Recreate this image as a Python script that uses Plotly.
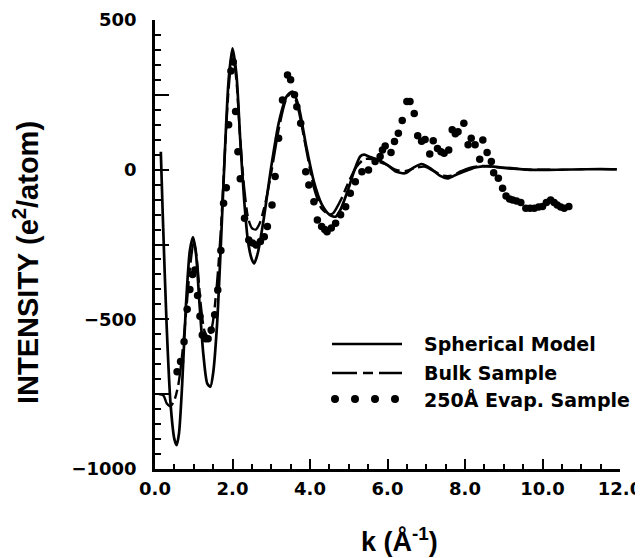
import plotly.graph_objects as go

# ---- data ----
k_model = [0.15, 0.20, 0.30, 0.40, 0.50, 0.56, 0.62, 0.70, 0.80, 0.90, 0.98, 1.05, 1.15, 1.25, 1.35, 1.43,
           1.50, 1.60, 1.70, 1.80, 1.90, 2.00, 2.10, 2.20, 2.30, 2.40, 2.50, 2.56, 2.65, 2.80, 3.00, 3.20,
           3.40, 3.55, 3.70, 3.90, 4.10, 4.30, 4.50, 4.66, 4.80, 5.00, 5.15, 5.30, 5.40, 5.55, 5.77, 6.00,
           6.20, 6.45, 6.65, 6.88, 7.10, 7.35, 7.56, 7.80, 8.08, 8.30, 8.59, 8.90, 9.19, 9.60, 10.04, 10.50,
           11.00, 11.50, 11.92]
i_model = [60, -150, -520, -780, -900, -920, -880, -720, -450, -270, -225, -270, -450, -620, -715, -725,
           -680, -520, -250, 50, 300, 405, 320, 100, -100, -240, -300, -313, -280, -170, 10, 160,
           245, 261, 215, 80, -40, -115, -150, -157, -130, -60, 0, 45, 50, 42, 32, 15,
           -5, -12, 5, 19, 5, -20, -29, -15, -1, 8, 12, 8, 5, 0, -1, 0,
           1, 2, 1]

k_bulk = [0.10, 0.22, 0.30, 0.40, 0.50, 0.60, 0.70, 0.80, 0.90, 1.00, 1.08, 1.18, 1.28, 1.38, 1.48, 1.60,
          1.70, 1.80, 1.90, 2.00, 2.10, 2.20, 2.30, 2.40, 2.50, 2.60, 2.70, 2.85, 3.00, 3.20, 3.40, 3.55,
          3.70, 3.90, 4.10, 4.30, 4.50, 4.60, 4.80, 5.00, 5.20, 5.40, 5.60, 5.80, 6.00, 6.20, 6.45, 6.70,
          6.95, 7.20, 7.45, 7.65, 7.90, 8.10, 8.40, 8.70, 9.00, 9.40, 9.80, 10.20]
i_bulk = [-750, -755, -780, -790, -770, -720, -620, -480, -330, -240, -300, -450, -540, -560, -520, -380,
          -200, 50, 270, 390, 300, 100, -60, -160, -195, -200, -180, -110, -10, 140, 240, 258,
          200, 70, -60, -130, -150, -145, -100, -40, 10, 35, 35, 25, 15, 0, -5, 5,
          10, -5, -20, -20, -5, 5, 12, 10, 5, 2, 0, 0]

k_evap = [0.57, 0.66, 0.75, 0.83, 0.90, 0.97, 1.03, 1.10, 1.16, 1.22, 1.30, 1.37, 1.45, 1.54, 1.62, 1.70,
          1.77, 1.84, 1.90, 1.96, 2.02, 2.08, 2.14, 2.20, 2.31, 2.42, 2.52, 2.61, 2.72, 2.82, 2.90, 3.02,
          3.10, 3.19, 3.29, 3.42, 3.50, 3.60, 3.66, 3.76, 3.89, 3.97, 4.10, 4.19, 4.30, 4.38, 4.44, 4.55,
          4.66, 4.79, 4.92, 5.04, 5.17, 5.34, 5.51, 5.68, 5.81, 5.87, 5.94, 6.09, 6.18, 6.28, 6.38, 6.50,
          6.58, 6.69, 6.78, 6.88, 6.97, 7.09, 7.18, 7.29, 7.38, 7.46, 7.58, 7.67, 7.75, 7.82, 7.97, 8.08,
          8.16, 8.26, 8.38, 8.46, 8.57, 8.68, 8.74, 8.86, 8.97, 9.06, 9.15, 9.23, 9.33, 9.44, 9.57, 9.68,
          9.79, 9.90, 10.00, 10.10, 10.21, 10.30, 10.38, 10.47, 10.56, 10.68]
i_evap = [-675, -641, -575, -466, -400, -350, -335, -420, -490, -552, -565, -565, -536, -485, -402, -270,
          -112, -60, 150, 330, 360, 194, 60, -30, -162, -235, -245, -252, -240, -224, -190, -118,
          -23, 105, 233, 316, 300, 250, 210, 155, -7, -51, -107, -168, -190, -200, -207, -195,
          -179, -151, -124, -79, -40, -7, -1, 27, 44, 66, 79, 57, 94, 122, 164, 228,
          228, 188, 113, 95, 101, 52, 97, 71, 60, 55, 66, 133, 120, 127, 155, 83,
          105, 83, 35, 99, 57, 27, -10, -29, -62, -88, -98, -101, -105, -110, -129, -129,
          -129, -125, -123, -110, -101, -110, -118, -125, -129, -123]

x_ticks = [0, 2, 4, 6, 8, 10, 12]
x_labels = ["0.0", "2.0", "4.0", "6.0", "8.0", "10.0", "12.0"]
y_ticks = [-1000, -500, 0, 500]
y_labels = ["\u22121000", "\u2212500", "0", "500"]
y_long_ticks = [-750, -250, 250]

legend_names = ["Spherical Model", "Bulk Sample", "250Å Evap. Sample"]

# ---- figure (page body adds an 8px offset; figure coords below account for it) ----
W, H = 643, 558
L, R, T, B = 147, 31, 12, 97
pw, ph = W - L - R, H - T - B

fig = go.Figure()
fig.add_trace(go.Scatter(x=k_model, y=i_model, mode="lines", name=legend_names[0],
                         line=dict(color="black", width=2.7, shape="spline", smoothing=0.7)))
fig.add_trace(go.Scatter(x=k_bulk, y=i_bulk, mode="lines", name=legend_names[1],
                         line=dict(color="black", width=2.4, dash="22px,5px,9px,5px",
                                   shape="spline", smoothing=0.7)))
fig.add_trace(go.Scatter(x=k_evap, y=i_evap, mode="markers", name=legend_names[2],
                         marker=dict(color="black", size=7.5)))
# empty trace so the secondary (tick-only) y axis is drawn
fig.add_trace(go.Scatter(x=[None], y=[None], yaxis="y2", showlegend=False, hoverinfo="skip"))

tick_font = dict(family="DejaVu Sans", size=18, color="black", weight="bold")

fig.update_layout(
    width=W, height=H,
    margin=dict(l=L, r=R, t=T, b=B, pad=0),
    paper_bgcolor="white", plot_bgcolor="white",
    showlegend=False,
    xaxis=dict(range=[0, 12], tickvals=x_ticks, ticktext=x_labels, ticks="inside", ticklen=10,
               tickwidth=2, tickcolor="black", showline=True, linecolor="black", linewidth=2.5,
               showgrid=False, zeroline=False, tickfont=tick_font, ticklabelstandoff=2,
               ticklabeloverflow="allow", automargin=False,
               minor=dict(dtick=0.5, tick0=0, ticks="inside", ticklen=5, tickwidth=2, tickcolor="black",
                          showgrid=False)),
    yaxis=dict(range=[-1000, 500], tickvals=y_ticks, ticktext=y_labels, ticks="inside", ticklen=14,
               tickwidth=2, tickcolor="black", showline=True, linecolor="black", linewidth=2.5,
               showgrid=False, zeroline=False, tickfont=tick_font, ticklabelstandoff=12,
               ticklabeloverflow="allow", automargin=False,
               minor=dict(dtick=50, tick0=0, ticks="inside", ticklen=6, tickwidth=2, tickcolor="black",
                          showgrid=False)),
    yaxis2=dict(range=[-1000, 500], overlaying="y", side="left", anchor="x", tickvals=y_long_ticks,
                ticks="inside", ticklen=14, tickwidth=2, tickcolor="black", showticklabels=False,
                showline=False, showgrid=False, zeroline=False, automargin=False),
)


def px_x(v):
    return (v - L) / pw


def px_y(v):
    return 1 - (v - T) / ph


# axis titles
fig.add_annotation(xref="paper", yref="paper", x=px_x(18), y=px_y(255),
                   text="INTENSITY (e<sup>2</sup>/atom)", textangle=-90, showarrow=False,
                   xanchor="center", yanchor="middle",
                   font=dict(family="Liberation Sans", size=29, color="black", weight="bold"))
fig.add_annotation(xref="paper", yref="paper", x=px_x(391), y=px_y(532),
                   text="k (Å<sup>-1</sup>)", showarrow=False, xanchor="center", yanchor="middle",
                   font=dict(family="Liberation Sans", size=27, color="black", weight="bold"))

# custom legend
leg_font = dict(family="DejaVu Sans", size=19, color="black", weight="bold")
leg_rows = [336, 365, 391]
fig.add_shape(type="line", xref="paper", yref="paper", x0=px_x(324), x1=px_x(394),
              y0=px_y(leg_rows[0]), y1=px_y(leg_rows[0]), line=dict(color="black", width=2.7))
fig.add_shape(type="line", xref="paper", yref="paper", x0=px_x(324), x1=px_x(394),
              y0=px_y(leg_rows[1]), y1=px_y(leg_rows[1]),
              line=dict(color="black", width=2.7, dash="25px,6px,10px,6px"))
for j in range(4):
    cx = 327 + j * 20
    fig.add_shape(type="circle", xref="paper", yref="paper",
                  x0=px_x(cx - 4), x1=px_x(cx + 4), y0=px_y(leg_rows[2] + 4), y1=px_y(leg_rows[2] - 4),
                  fillcolor="black", line=dict(color="black", width=0))
for name, row in zip(legend_names, leg_rows):
    fig.add_annotation(xref="paper", yref="paper", x=px_x(414), y=px_y(row), text=name,
                       showarrow=False, xanchor="left", yanchor="middle", font=leg_font)

fig.write_html("out.html")
